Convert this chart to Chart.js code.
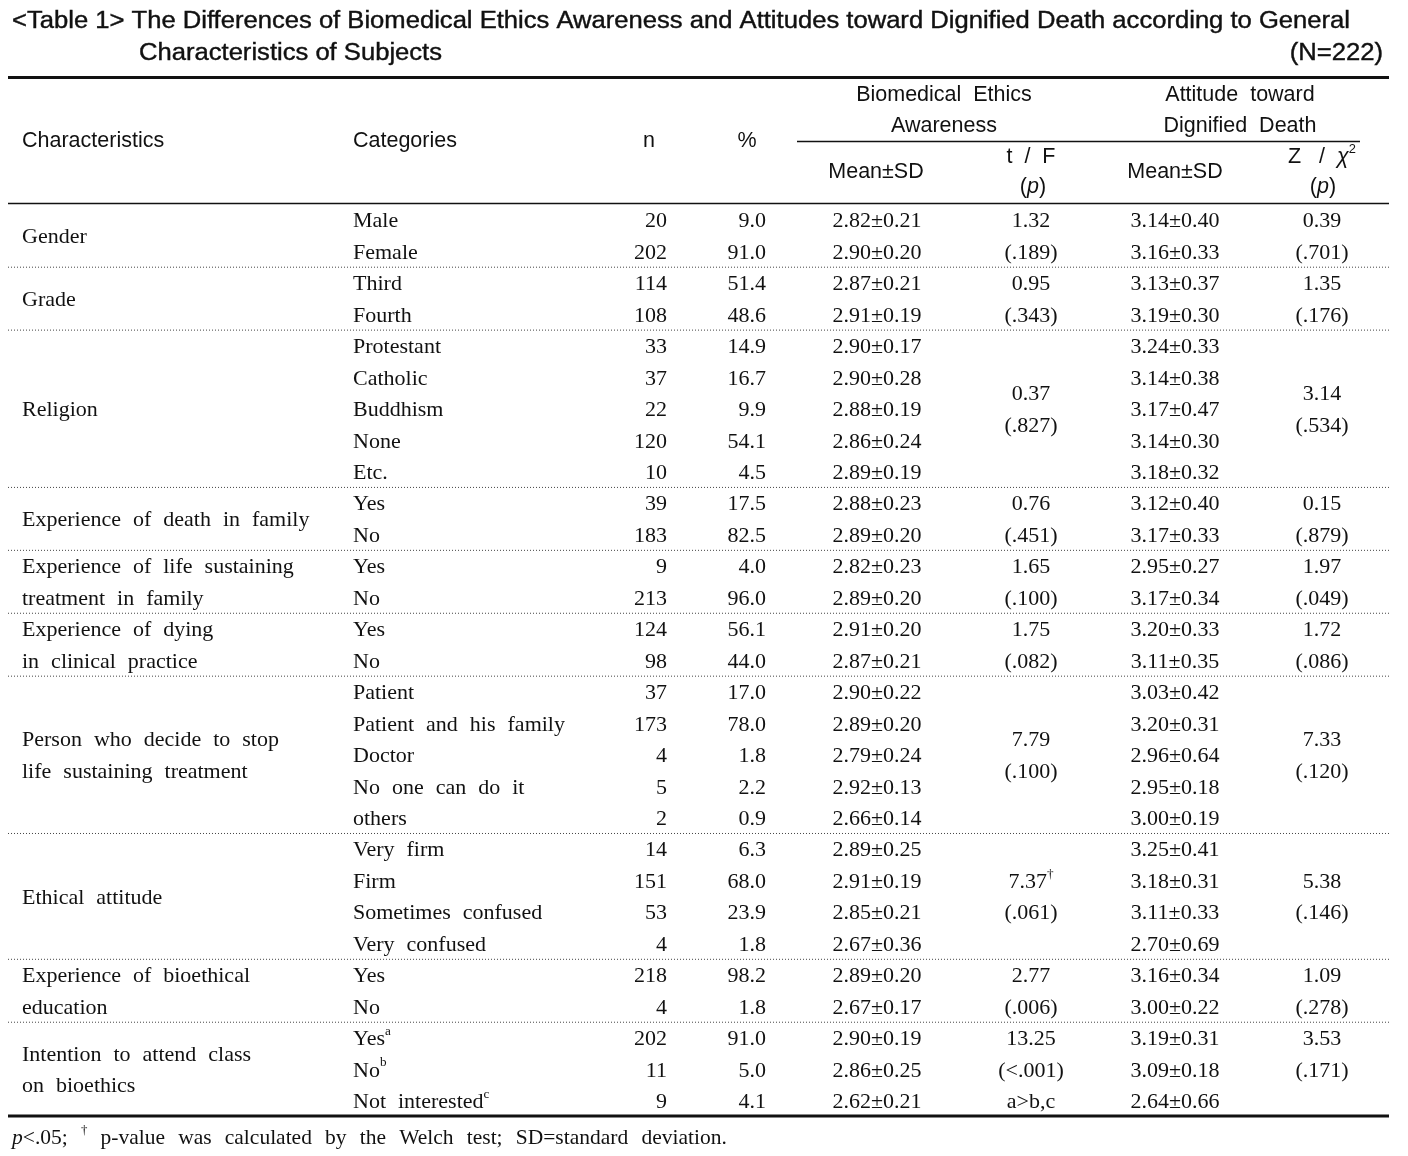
<!DOCTYPE html>
<html>
<head>
<meta charset="utf-8">
<script src="https://cdn.jsdelivr.net/npm/chart.js@4.4.1/dist/chart.umd.min.js"></script>
<style>
  html, body { margin: 0; padding: 0; background: #fff; }
  #wrap { width: 1408px; height: 1156px; }
</style>
</head>
<body>
<div id="wrap"><canvas id="tableChart" width="1408" height="1156"></canvas></div>
<script>
// =======================
// DATA
// =======================
const groups = [
  "Gender",
  "Grade",
  "Religion",
  "Experience of death in family",
  "Experience of life sustaining\ntreatment in family",
  "Experience of dying\nin clinical practice",
  "Person who decide to stop\nlife sustaining treatment",
  "Ethical attitude",
  "Experience of bioethical\neducation",
  "Intention to attend class\non bioethics"
];
const groupSizes = [2, 2, 5, 2, 2, 2, 5, 4, 2, 3];

const categories = [
  "Male", "Female",
  "Third", "Fourth",
  "Protestant", "Catholic", "Buddhism", "None", "Etc.",
  "Yes", "No",
  "Yes", "No",
  "Yes", "No",
  "Patient", "Patient and his family", "Doctor", "No one can do it", "others",
  "Very firm", "Firm", "Sometimes confused", "Very confused",
  "Yes", "No",
  "Yes^a^", "No^b^", "Not interested^c^"
];
const nValues = [20, 202, 114, 108, 33, 37, 22, 120, 10, 39, 183, 9, 213, 124, 98,
  37, 173, 4, 5, 2, 14, 151, 53, 4, 218, 4, 202, 11, 9];
const pctValues = [9.0, 91.0, 51.4, 48.6, 14.9, 16.7, 9.9, 54.1, 4.5, 17.5, 82.5, 4.0, 96.0, 56.1, 44.0,
  17.0, 78.0, 1.8, 2.2, 0.9, 6.3, 68.0, 23.9, 1.8, 98.2, 1.8, 91.0, 5.0, 4.1];

// Biomedical ethics awareness
const beaMean = [2.82, 2.90, 2.87, 2.91, 2.90, 2.90, 2.88, 2.86, 2.89, 2.88, 2.89, 2.82, 2.89, 2.91, 2.87,
  2.90, 2.89, 2.79, 2.92, 2.66, 2.89, 2.91, 2.85, 2.67, 2.89, 2.67, 2.90, 2.86, 2.62];
const beaSD = [0.21, 0.20, 0.21, 0.19, 0.17, 0.28, 0.19, 0.24, 0.19, 0.23, 0.20, 0.23, 0.20, 0.20, 0.21,
  0.22, 0.20, 0.24, 0.13, 0.14, 0.25, 0.19, 0.21, 0.36, 0.20, 0.17, 0.19, 0.25, 0.21];
const beaStat = ["1.32", "0.95", "0.37", "0.76", "1.65", "1.75", "7.79", "7.37^†^", "2.77", "13.25"];
const beaP = [".189", ".343", ".827", ".451", ".100", ".082", ".100", ".061", ".006", "<.001"];
const beaPost = ["", "", "", "", "", "", "", "", "", "a>b,c"];

// Attitude toward dignified death
const attMean = [3.14, 3.16, 3.13, 3.19, 3.24, 3.14, 3.17, 3.14, 3.18, 3.12, 3.17, 2.95, 3.17, 3.20, 3.11,
  3.03, 3.20, 2.96, 2.95, 3.00, 3.25, 3.18, 3.11, 2.70, 3.16, 3.00, 3.19, 3.09, 2.64];
const attSD = [0.40, 0.33, 0.37, 0.30, 0.33, 0.38, 0.47, 0.30, 0.32, 0.40, 0.33, 0.27, 0.34, 0.33, 0.35,
  0.42, 0.31, 0.64, 0.18, 0.19, 0.41, 0.31, 0.33, 0.69, 0.34, 0.22, 0.31, 0.18, 0.66];
const attStat = ["0.39", "1.35", "3.14", "0.15", "1.97", "1.72", "7.33", "5.38", "1.09", "3.53"];
const attP = [".701", ".176", ".534", ".879", ".049", ".086", ".120", ".146", ".278", ".171"];

const titleLines = [
  "<Table 1> The Differences of Biomedical Ethics Awareness and Attitudes toward Dignified Death according to General",
  "Characteristics of Subjects"
];
const sampleNote = "(N=222)";
const footnote = "*p*<.05; ^†^ p-value was calculated by the Welch test; SD=standard deviation.";

// =======================
// LAYOUT / STYLE
// =======================
const ROW_H = 31.46;
const FIRST_ROW = 220;
const Y_MIN = -FIRST_ROW / ROW_H;
const Y_MAX = Y_MIN + 1156 / ROW_H;
const hy = px => Y_MIN + px / ROW_H;   // header pixel -> row units

const SANS = '"Liberation Sans", Arial, sans-serif';
const SERIF = '"Liberation Serif", "Times New Roman", serif';
const headStyle = { family: SANS, size: 21.5, gap: 0, dy: 0.5 };
const bodyStyle = { family: SERIF, size: 22, gap: 6.5, dy: 1.5 };
const noteStyle = { family: SERIF, size: 21.5, gap: 7.8, dy: 1 };
const titleStyle = { family: SANS, size: 23, gap: 0, stroke: 0.4, dy: 0.5 };

const col = {
  char: 22, cat: 353, n: 667, pct: 766,
  beaMean: 877, beaStat: 1031, attMean: 1175, attStat: 1322
};

// =======================
// RICH TEXT HELPERS
// =======================
function parseRich(str) {
  return str.split(/(\*[^*]+\*|\^[^^]+\^)/).filter(s => s).map(s => {
    if (s[0] === "*") return { t: s.slice(1, -1), italic: true };
    if (s[0] === "^") return { t: s.slice(1, -1), sup: true };
    return { t: s };
  });
}

function measureRich(ctx, str, st) {
  return parseRich(str).map(s => {
    const size = s.sup ? st.size * 0.6 : st.size;
    const f = `${s.italic ? "italic " : ""}${size}px ${st.family}`;
    ctx.font = f;
    const spaces = (s.t.match(/ /g) || []).length;
    return { ...s, f, w: ctx.measureText(s.t).width + spaces * st.gap };
  });
}

function drawRich(ctx, str, x, y, align, st, sx) {
  const parts = measureRich(ctx, str, st);
  sx = sx || 1;
  const total = parts.reduce((a, p) => a + p.w, 0) * sx;
  const left = align === "left" ? x : align === "right" ? x - total : x - total / 2;
  ctx.save();
  ctx.translate(left, y + (st.dy || 0));
  ctx.scale(sx, 1);
  ctx.fillStyle = "#111";
  ctx.strokeStyle = "#111";
  ctx.textBaseline = "middle";
  ctx.textAlign = "left";
  let px = 0;
  parts.forEach(p => {
    ctx.font = p.f;
    const dy = p.sup ? -st.size * 0.36 : 0;
    const words = p.t.split(" ");
    let wx = px;
    words.forEach((wd, i) => {
      ctx.fillText(wd, wx, dy);
      if (st.stroke) { ctx.lineWidth = st.stroke; ctx.strokeText(wd, wx, dy); }
      wx += ctx.measureText(wd).width;
      if (i < words.length - 1) wx += ctx.measureText(" ").width + st.gap;
    });
    px += p.w;
  });
  ctx.restore();
}

function rawWidth(ctx, str, st) {
  return measureRich(ctx, str, st).reduce((a, p) => a + p.w, 0);
}

// =======================
// TABLE PLUGIN
// =======================
const tablePlugin = {
  id: "tableDraw",
  beforeDraw(chart) {
    const c = chart.ctx;
    c.save();
    c.fillStyle = "#fff";
    c.fillRect(0, 0, chart.width, chart.height);
    c.restore();
  },
  afterDatasetsDraw(chart) {
    const c = chart.ctx;
    const X = v => chart.scales.x.getPixelForValue(v);
    const Y = v => chart.scales.y.getPixelForValue(v);

    function hline(yv, x0, x1, w, dash) {
      c.save();
      c.beginPath();
      c.strokeStyle = dash ? "#444" : "#111";
      c.lineWidth = w;
      if (dash) c.setLineDash(dash);
      c.moveTo(X(x0), Y(yv));
      c.lineTo(X(x1), Y(yv));
      c.stroke();
      c.restore();
    }

    // title
    const tsx = 1338 / rawWidth(c, titleLines[0], titleStyle);
    drawRich(c, titleLines[0], X(12), Y(hy(21)), "left", titleStyle, tsx);
    drawRich(c, titleLines[1], X(139), Y(hy(53)), "left", titleStyle, tsx);
    drawRich(c, sampleNote, X(1383), Y(hy(53)), "right", titleStyle, tsx);

    // rules
    hline(hy(77.5), 8, 1389, 3);
    hline(hy(141.5), 797, 1360, 1.3);
    hline(hy(203.5), 8, 1389, 1.5);
    hline(hy(1116), 8, 1389, 3);

    // header
    drawRich(c, "Characteristics", X(col.char), Y(hy(141)), "left", headStyle);
    drawRich(c, "Categories", X(col.cat), Y(hy(141)), "left", headStyle);
    drawRich(c, "n", X(649), Y(hy(141)), "center", headStyle);
    drawRich(c, "%", X(747), Y(hy(141)), "center", headStyle);
    drawRich(c, "Biomedical  Ethics", X(944), Y(hy(95)), "center", headStyle);
    drawRich(c, "Awareness", X(944), Y(hy(126)), "center", headStyle);
    drawRich(c, "Attitude  toward", X(1240), Y(hy(95)), "center", headStyle);
    drawRich(c, "Dignified  Death", X(1240), Y(hy(126)), "center", headStyle);
    drawRich(c, "Mean±SD", X(876), Y(hy(172)), "center", headStyle);
    drawRich(c, "Mean±SD", X(1175), Y(hy(172)), "center", headStyle);
    drawRich(c, "t  /  F", X(1031), Y(hy(157)), "center", headStyle);
    drawRich(c, "(*p*)", X(1033), Y(hy(187)), "center", headStyle);
    drawRich(c, "Z   /  *χ*^2^", X(1322), Y(hy(157)), "center", headStyle);
    drawRich(c, "(*p*)", X(1323), Y(hy(187)), "center", headStyle);

    // body rows
    categories.forEach((cat, i) => {
      drawRich(c, cat, X(col.cat), Y(i), "left", bodyStyle);
      drawRich(c, String(nValues[i]), X(col.n), Y(i), "right", bodyStyle);
      drawRich(c, pctValues[i].toFixed(1), X(col.pct), Y(i), "right", bodyStyle);
      drawRich(c, beaMean[i].toFixed(2) + "±" + beaSD[i].toFixed(2), X(col.beaMean), Y(i), "center", bodyStyle);
      drawRich(c, attMean[i].toFixed(2) + "±" + attSD[i].toFixed(2), X(col.attMean), Y(i), "center", bodyStyle);
    });

    // groups
    let start = 0;
    groups.forEach((g, gi) => {
      const size = groupSizes[gi];
      const mid = start + (size - 1) / 2;
      const lines = g.split("\n");
      lines.forEach((ln, li) => {
        const yv = mid + (li - (lines.length - 1) / 2);
        drawRich(c, ln, X(col.char), Y(yv), "left", bodyStyle);
      });
      const top = beaPost[gi] ? start : mid - 0.5;
      drawRich(c, beaStat[gi], X(col.beaStat), Y(top), "center", bodyStyle);
      drawRich(c, "(" + beaP[gi] + ")", X(col.beaStat), Y(top + 1), "center", bodyStyle);
      if (beaPost[gi]) drawRich(c, beaPost[gi], X(col.beaStat), Y(top + 2), "center", bodyStyle);
      drawRich(c, attStat[gi], X(col.attStat), Y(top), "center", bodyStyle);
      drawRich(c, "(" + attP[gi] + ")", X(col.attStat), Y(top + 1), "center", bodyStyle);

      start += size;
      if (gi < groups.length - 1) hline(start - 0.5, 8, 1389, 1, [1, 2]);
    });

    // footnote
    drawRich(c, footnote, X(12), Y(hy(1137)), "left", noteStyle);
  }
};

// =======================
// CHART
// =======================
const ctx = document.getElementById("tableChart");

new Chart(ctx, {
  type: "scatter",
  data: {
    datasets: [{
      data: categories.map((cat, i) => ({ x: col.cat, y: i })),
      pointRadius: 0
    }]
  },
  options: {
    responsive: false,
    animation: false,
    events: [],
    layout: { padding: 0 },
    plugins: { legend: { display: false }, tooltip: { enabled: false } },
    scales: {
      x: { type: "linear", min: 0, max: 1408, display: false },
      y: { type: "linear", min: Y_MIN, max: Y_MAX, reverse: true, display: false }
    }
  },
  plugins: [tablePlugin]
});
</script>
</body>
</html>
